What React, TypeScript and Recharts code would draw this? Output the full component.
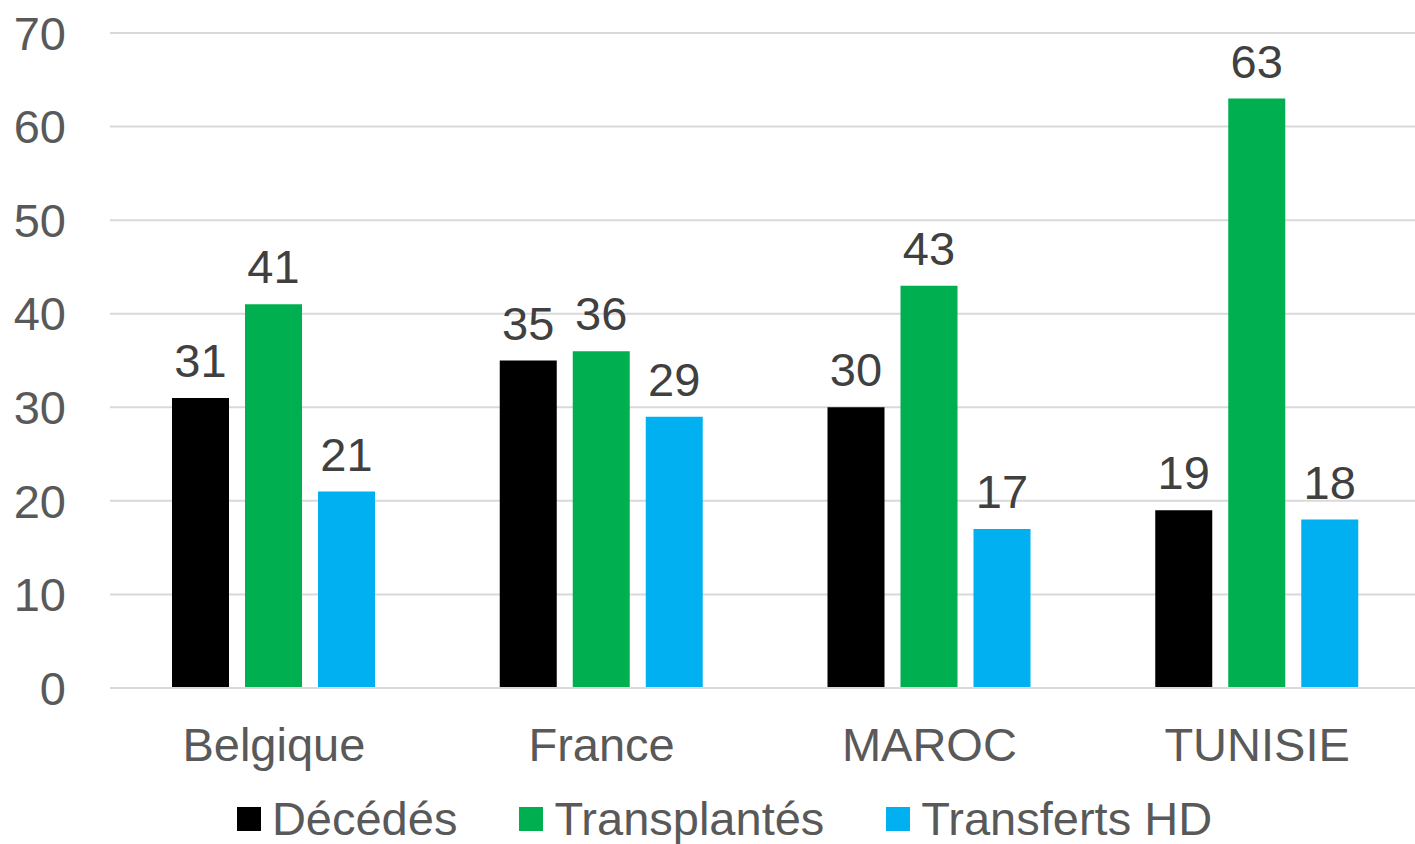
import React from "react";
import { BarChart, Bar, XAxis, YAxis, CartesianGrid, LabelList, Legend } from "recharts";

const categories = ["Belgique", "France", "MAROC", "TUNISIE"];
const decedes = [31, 35, 30, 19];
const transplantes = [41, 36, 43, 63];
const transferts = [21, 29, 17, 18];
const yTicks = [0, 10, 20, 30, 40, 50, 60, 70];

const SERIES = [
  { key: "decedes", name: "Décédés", color: "#000000" },
  { key: "transplantes", name: "Transplantés", color: "#00B050" },
  { key: "transferts", name: "Transferts HD", color: "#00B0F0" },
];

const data = categories.map((c, i) => ({
  name: c,
  decedes: decedes[i],
  transplantes: transplantes[i],
  transferts: transferts[i],
}));

const FONT = "'Liberation Sans', Arial, sans-serif";
const FS = 47;

function LegendContent() {
  return (
    <div style={{ display: "flex", justifyContent: "center", alignItems: "center", paddingTop: 10, paddingLeft: 28 }}>
      {SERIES.map((s, i) => (
        <div key={s.key} style={{ display: "flex", alignItems: "center", marginRight: i < SERIES.length - 1 ? 62 : 0 }}>
          <span style={{ width: 24, height: 24, background: s.color, display: "inline-block", marginRight: 11 }} />
          <span style={{ fontFamily: FONT, fontSize: FS, color: "#595959", lineHeight: "50px" }}>{s.name}</span>
        </div>
      ))}
    </div>
  );
}

export default function App() {
  return (
    <div style={{ position: "fixed", left: 0, top: 0, width: 1415, height: 844, overflow: "hidden", background: "#fff" }}>
      <BarChart
        width={1421}
        height={844}
        data={data}
        margin={{ top: 33, right: 0, left: 0, bottom: 0 }}
        barSize={57}
        barGap={16}
      >
        <CartesianGrid vertical={false} stroke="#D9D9D9" strokeWidth={2} />
        <XAxis
          dataKey="name"
          height={96}
          tickLine={false}
          tickSize={0}
          tickMargin={40}
          axisLine={{ stroke: "#D9D9D9", strokeWidth: 2 }}
          tick={{ fontFamily: FONT, fontSize: FS, fill: "#595959" }}
        />
        <YAxis
          width={110}
          domain={[0, 70]}
          ticks={yTicks}
          interval={0}
          axisLine={false}
          tickLine={false}
          tickSize={0}
          tickMargin={44}
          tick={{ fontFamily: FONT, fontSize: FS, fill: "#595959" }}
        />
        <Legend verticalAlign="bottom" height={60} content={<LegendContent />} />
        {SERIES.map((s) => (
          <Bar key={s.key} dataKey={s.key} name={s.name} fill={s.color} isAnimationActive={false}>
            <LabelList
              dataKey={s.key}
              position="top"
              offset={21}
              style={{ fontFamily: FONT, fontSize: FS, fill: "#404040" }}
            />
          </Bar>
        ))}
      </BarChart>
    </div>
  );
}
